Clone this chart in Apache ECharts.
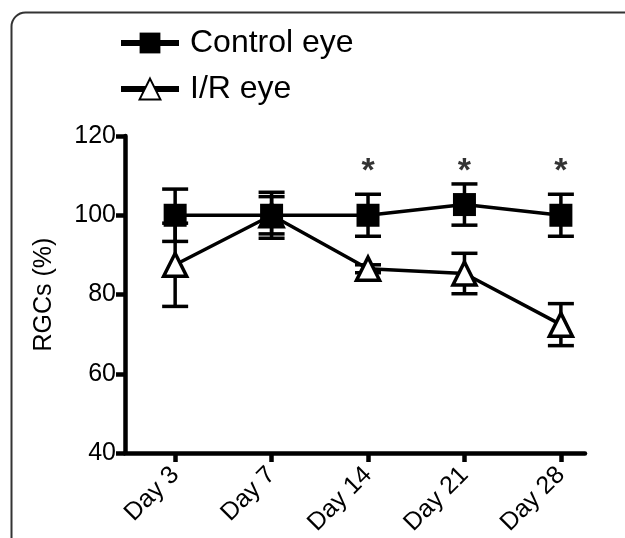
<!DOCTYPE html>
<html>
<head>
<meta charset="utf-8">
<script src="https://cdn.jsdelivr.net/npm/echarts@6/dist/echarts.min.js"></script>
<style>
  html, body { margin: 0; padding: 0; background: #fff; }
  #chart { width: 625px; height: 538px; }
</style>
</head>
<body>
<div id="chart"></div>
<script>
const categories = ['Day 3', 'Day 7', 'Day 14', 'Day 21', 'Day 28'];
const controlMean = [100, 100, 100, 102.7, 100];
const controlErr = [6.6, 5.8, 5.3, 5.2, 5.3];
const irMean = [87.5, 100, 86.5, 85.3, 72.4];
const irErr = [10.5, 4.7, 1.0, 5.1, 5.3];
const starIndex = [2, 3, 4];
const starValue = [111, 111, 111];
const yMin = 40, yMax = 120, yInterval = 20;

const FONT = 'Liberation Sans, Arial, sans-serif';

function errRender(params, api) {
  const x = api.value(0), m = api.value(1), e = api.value(2);
  const top = api.coord([x, m + e]);
  const bot = api.coord([x, m - e]);
  const hw = 13;
  const st = { stroke: '#000', lineWidth: 3.5 };
  return {
    type: 'group',
    children: [
      { type: 'line', shape: { x1: top[0], y1: top[1], x2: bot[0], y2: bot[1] }, style: st },
      { type: 'line', shape: { x1: top[0] - hw, y1: top[1], x2: top[0] + hw, y2: top[1] }, style: st },
      { type: 'line', shape: { x1: bot[0] - hw, y1: bot[1], x2: bot[0] + hw, y2: bot[1] }, style: st }
    ]
  };
}

const chart = echarts.init(document.getElementById('chart'), null, { renderer: 'canvas' });
const idx = categories.map((c, i) => i);

chart.setOption({
  animation: false,
  backgroundColor: '#fff',
  textStyle: { fontFamily: FONT },
  graphic: [{
    type: 'rect',
    left: 9, top: 10,
    shape: { width: 1000, height: 1000, r: 14 },
    style: { fill: 'none', stroke: '#333', lineWidth: 2 },
    z: 0
  }],
  legend: {
    orient: 'vertical',
    left: 113, top: 22,
    itemWidth: 58, itemHeight: 26,
    itemGap: 14,
    data: ['Control eye', 'I/R eye'],
    lineStyle: { width: 6 },
    textStyle: { fontSize: 32, color: '#000', fontFamily: FONT, padding: [0, 0, 0, 6] }
  },
  grid: { left: 125, right: 40, top: 136, bottom: 83 },
  xAxis: {
    type: 'value',
    min: -0.52, max: 4.25,
    splitLine: { show: false },
    axisLine: { show: true, onZero: false, lineStyle: { color: '#000', width: 4.5 } },
    axisTick: { show: true, customValues: idx, length: 9, lineStyle: { color: '#000', width: 4.5 } },
    axisLabel: {
      customValues: idx,
      formatter: v => categories[Math.round(v)],
      rotate: 45, fontSize: 25, color: '#000', margin: 18, fontFamily: FONT
    }
  },
  yAxis: {
    type: 'value',
    min: yMin, max: yMax, interval: yInterval,
    name: 'RGCs (%)',
    nameLocation: 'middle',
    nameRotate: 90,
    nameGap: 68,
    nameTextStyle: { fontSize: 25, color: '#000', fontFamily: FONT },
    splitLine: { show: false },
    axisLine: { show: true, onZero: false, lineStyle: { color: '#000', width: 4.5 } },
    axisTick: { show: true, length: 9, lineStyle: { color: '#000', width: 4.5 } },
    axisLabel: { fontSize: 25, color: '#000', margin: 9, fontFamily: FONT }
  },
  series: [
    {
      name: 'I/R eye err', type: 'custom', renderItem: errRender, z: 3,
      data: idx.map(i => [i, irMean[i], irErr[i]]), encode: { x: 0, y: 1 }, silent: true
    },
    {
      name: 'I/R eye', type: 'line', z: 4,
      data: idx.map(i => [i, irMean[i]]),
      symbol: 'triangle', symbolSize: 23,
      lineStyle: { color: '#000', width: 3.5 },
      itemStyle: { color: '#fff', borderColor: '#000', borderWidth: 3.5 }
    },
    {
      name: 'Control eye err', type: 'custom', renderItem: errRender, z: 5,
      data: idx.map(i => [i, controlMean[i], controlErr[i]]), encode: { x: 0, y: 1 }, silent: true
    },
    {
      name: 'Control eye', type: 'line', z: 6,
      data: idx.map(i => [i, controlMean[i]]),
      symbol: 'rect', symbolSize: 23,
      lineStyle: { color: '#000', width: 3.5 },
      itemStyle: { color: '#000', borderColor: '#000', borderWidth: 0 }
    },
    {
      name: 'stars', type: 'scatter', z: 7,
      data: starIndex.map((i, k) => [i, starValue[k]]),
      symbolSize: 1, itemStyle: { color: 'rgba(0,0,0,0)' },
      label: { show: true, position: 'inside', formatter: '*', fontSize: 34, fontWeight: 'bold', color: '#000', fontFamily: FONT }
    }
  ]
});
</script>
</body>
</html>
